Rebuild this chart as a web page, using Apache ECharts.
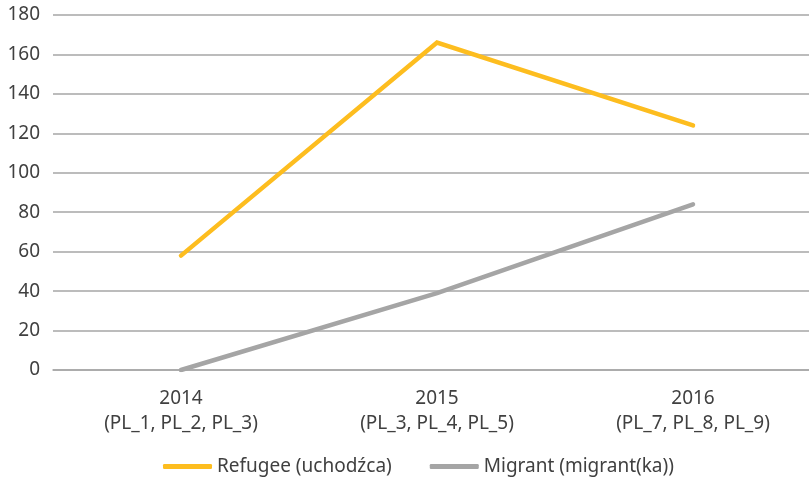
<!DOCTYPE html>
<html><head><meta charset="utf-8">
<script src="https://cdn.jsdelivr.net/npm/echarts@6/dist/echarts.min.js"></script>
<style>html,body{margin:0;padding:0;background:#fff;overflow:hidden;width:809px;height:482px}#c{width:821px;height:482px}</style>
</head><body><div id="c"></div>
<script>
const categories = ['2014\n(PL_1, PL_2, PL_3)', '2015\n(PL_3, PL_4, PL_5)', '2016\n(PL_7, PL_8, PL_9)'];
const refugee = [58, 166, 124];
const migrant = [0, 39, 84];
const seriesNames = ['Refugee (uchodźca)', 'Migrant (migrant(ka))'];
const FONT = 'Noto Sans';
const chart = echarts.init(document.getElementById('c'));
chart.setOption({
  animation: false,
  grid: {left: 53, right: 0, top: 15, height: 355, containLabel: false},
  legend: {
    top: 457, left: 163, padding: 0,
    data: seriesNames,
    icon: 'roundRect', itemWidth: 49, itemHeight: 5, itemGap: 38,
    textStyle: {fontFamily: FONT, fontSize: 19, color: '#404040'}
  },
  xAxis: {
    type: 'category', data: categories, boundaryGap: true,
    axisLine: {show: true, lineStyle: {color: '#a6a6a6', width: 1.5}},
    axisTick: {show: false},
    axisLabel: {fontFamily: FONT, fontSize: 19, color: '#404040', lineHeight: 25, margin: 16, interval: 0}
  },
  yAxis: {
    type: 'value', min: 0, max: 180, interval: 20,
    axisLine: {show: false}, axisTick: {show: false},
    axisLabel: {fontFamily: FONT, fontSize: 19, color: '#404040', margin: 13},
    splitLine: {lineStyle: {color: '#a6a6a6', width: 1.5}}
  },
  series: [
    {name: seriesNames[0], type: 'line', data: refugee, symbol: 'none', itemStyle: {color: '#fdbd1f'}, lineStyle: {color: '#fdbd1f', width: 4.5, cap: 'round', join: 'miter'}},
    {name: seriesNames[1], type: 'line', data: migrant, symbol: 'none', itemStyle: {color: '#a5a5a5'}, lineStyle: {color: '#a5a5a5', width: 4.5, cap: 'round'}}
  ]
});
</script></body></html>
